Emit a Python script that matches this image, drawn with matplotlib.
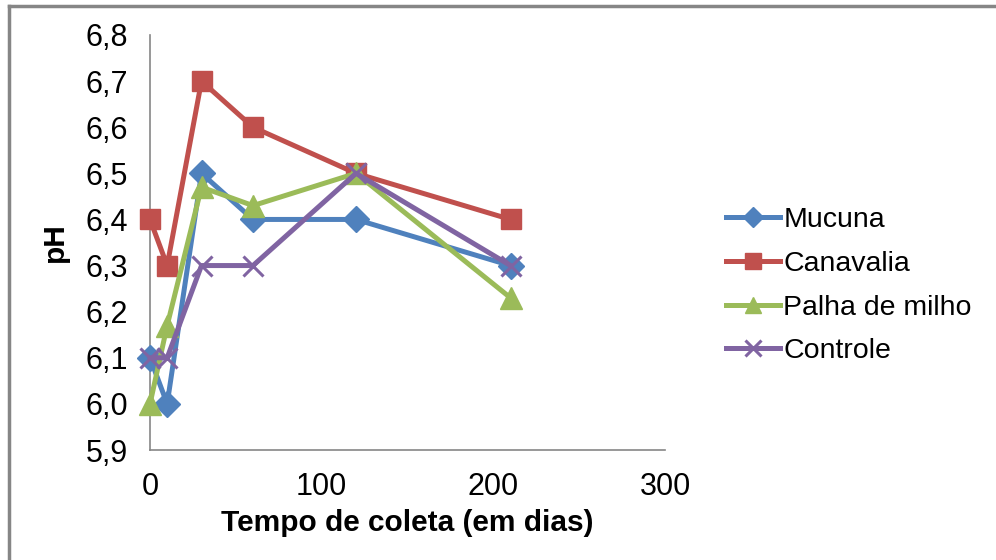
import matplotlib
matplotlib.use("Agg")
import matplotlib.pyplot as plt
from matplotlib.lines import Line2D
from matplotlib.ticker import FuncFormatter

plt.rcParams['font.family'] = ['Liberation Sans', 'DejaVu Sans']

dias = [0, 10, 30, 60, 120, 210]
mucuna = [6.1, 6.0, 6.5, 6.4, 6.4, 6.3]
canavalia = [6.4, 6.3, 6.7, 6.6, 6.5, 6.4]
palha = [6.0, 6.17, 6.47, 6.43, 6.5, 6.23]
controle = [6.1, 6.1, 6.3, 6.3, 6.5, 6.3]
series_names = ["Mucuna", "Canavalia", "Palha de milho", "Controle"]
x_ticks = [0, 100, 200, 300]
y_ticks = [5.9, 6.0, 6.1, 6.2, 6.3, 6.4, 6.5, 6.6, 6.7, 6.8]

fig = plt.figure(figsize=(9.96, 5.6), dpi=100)
ax = fig.add_axes([150/996, 1-450/560, 515/996, 415/560])

styles = [
    dict(color="#4F81BD", marker="D", markersize=13),
    dict(color="#C0504D", marker="s", markersize=15),
    dict(color="#9BBB59", marker="^", markersize=16),
    dict(color="#8064A2", marker="x", markersize=15, markeredgewidth=2.2),
]
for vals, name, st in zip([mucuna, canavalia, palha, controle], series_names, styles):
    ax.plot(dias, vals, label=name, linewidth=3.6, clip_on=False, zorder=3, **st)

ax.set_xlim(0, 300)
ax.set_ylim(5.9, 6.8)
ax.set_xticks(x_ticks)
ax.set_yticks(y_ticks)
ax.yaxis.set_major_formatter(FuncFormatter(lambda v, p: f"{v:.1f}".replace(".", ",")))
ax.tick_params(axis='both', length=0, labelsize=22)
ax.tick_params(axis='y', pad=16)
ax.tick_params(axis='x', pad=16)
for s in ["top", "right"]:
    ax.spines[s].set_visible(False)
for s in ["left", "bottom"]:
    ax.spines[s].set_color("#868686")
    ax.spines[s].set_linewidth(1.2)

ax.set_xlabel("Tempo de coleta (em dias)", fontsize=21.5, fontweight="bold", labelpad=5)
ax.set_ylabel("pH", fontsize=21.5, fontweight="bold", labelpad=12)

leg = fig.legend(loc="upper left", bbox_to_anchor=(712/996, 1-193/560), frameon=False,
                 fontsize=20.5, handlelength=1.9, handletextpad=0.1, labelspacing=0.62,
                 markerscale=0.75, borderpad=0)

# figure border (left and top)
fig.add_artist(Line2D([9/996, 9/996], [0, 1-6/560], transform=fig.transFigure, color="#868686", linewidth=2.5))
fig.add_artist(Line2D([9/996, 1], [1-6/560, 1-6/560], transform=fig.transFigure, color="#868686", linewidth=2.5))

fig.savefig("out.png", dpi=100)
